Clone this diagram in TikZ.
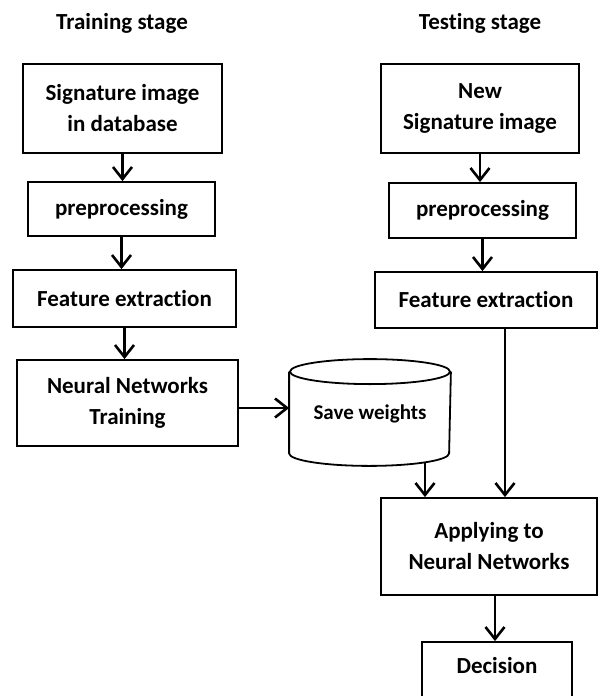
\documentclass[tikz,border=0pt]{standalone}
\usepackage{fontspec}
\setmainfont{Carlito}[Ligatures=NoCommon]
\usetikzlibrary{arrows.meta}

\tikzset{
  box/.style={draw, line width=1.8pt, align=center, inner sep=0pt, font=\fontsize{23}{31}\selectfont\bfseries},
  arr/.style={line width=2.6pt, -{Straight Barb[length=12pt,width=19pt,line width=2.6pt]}},
  lbl/.style={font=\fontsize{23}{27}\selectfont\bfseries}
}

\begin{document}
\begin{tikzpicture}[x=1pt, y=-1pt]
			\useasboundingbox (0, 0) rectangle (600, 696);
			\clip (0, 0) rectangle (600, 696);

			\node[lbl] (trainlbl) at (122, 23) {Training stage};
			\node[lbl] (testlbl) at (480, 23) {Testing stage};

			% training stage
			\node[box, minimum width=199pt, minimum height=89pt] (sig) at (122.5, 108.5) {Signature image\\in database};
			\node[box, minimum width=187pt, minimum height=54pt] (pre1) at (121.5, 209) {preprocessing};
			\node[box, minimum width=223pt, minimum height=57pt] (feat1) at (124.5, 298.5) {Feature extraction};
			\node[box, minimum width=221pt, minimum height=86pt] (nnt) at (127.5, 403) {Neural Networks\\Training};

			% weights store (cylinder)
			\node[box, draw=none, minimum width=160pt, minimum height=105pt, text depth=0pt, font=\fontsize{21}{25}\selectfont\bfseries] (weights) at (370, 412.5) {Save weights};
			\draw[line width=1.8pt] ([yshift=-12.5pt]weights.north) ellipse [x radius=80pt, y radius=12.5pt];
			\draw[line width=1.8pt] ([yshift=-12.5pt]weights.north west) -- ([yshift=12.5pt]weights.south west)
				arc [start angle=180, end angle=360, x radius=80pt, y radius=12.5pt] -- ([yshift=-12.5pt]weights.north east);

			% testing stage
			\node[box, minimum width=198pt, minimum height=89pt] (newsig) at (480, 108.5) {New\\Signature image};
			\node[box, minimum width=187pt, minimum height=55pt] (pre2) at (482.5, 210.5) {preprocessing};
			\node[box, minimum width=222pt, minimum height=56pt] (feat2) at (486, 300) {Feature extraction};
			\node[box, minimum width=216pt, minimum height=97pt] (apply) at (489, 546.5) {Applying to\\Neural Networks};
			\node[box, minimum width=150pt, minimum height=70pt, text depth=24pt] (decision) at (497, 677) {Decision};

			\draw[arr] (sig.south) -- (sig.south |- pre1.north);
			\draw[arr] (pre1.south) -- (pre1.south |- feat1.north);
			\draw[arr] (feat1.south) -- (feat1.south |- nnt.north);
			\draw[arr] (nnt.east |- 0, 408) -- (weights.west |- 0, 408);
			\draw[arr] (newsig.south) -- (newsig.south |- pre2.north);
			\draw[arr] (pre2.south) -- (pre2.south |- feat2.north);
			\draw[arr] ([xshift=19pt]feat2.south) -- ([xshift=19pt]feat2.south |- apply.north);
			\draw[arr] ([xshift=55pt, yshift=3.4pt]weights.south) -- ([xshift=55pt]weights.south |- apply.north);
			\draw[arr] ([xshift=6pt]apply.south) -- ([xshift=6pt]apply.south |- decision.north);
\end{tikzpicture}
\end{document}
